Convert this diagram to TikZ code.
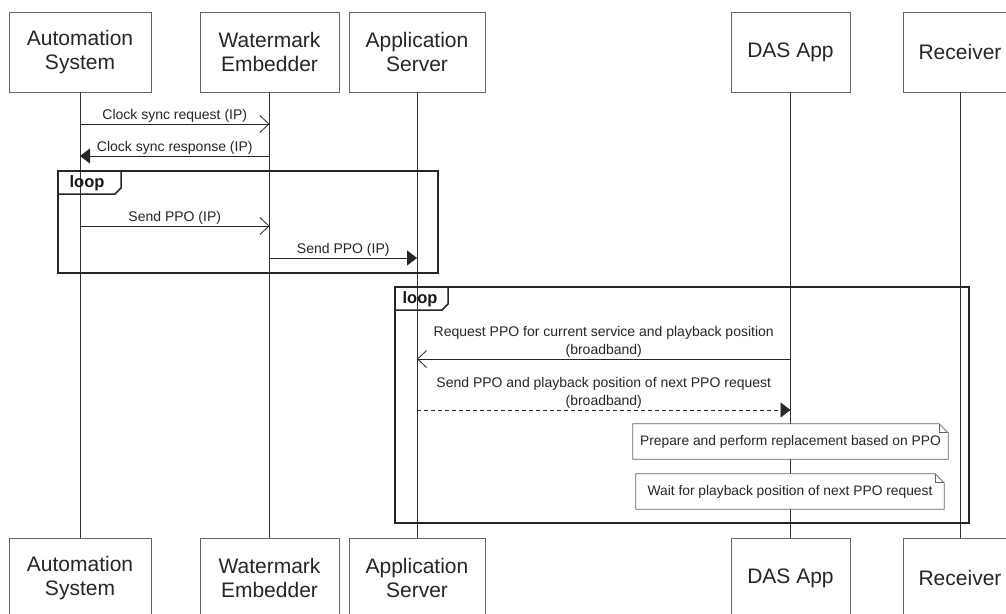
\documentclass[tikz,border=0pt]{standalone}
\usepackage{fontspec}
\setmainfont{Liberation Sans}
\usetikzlibrary{arrows.meta}

\begin{document}
\begin{tikzpicture}[x=1pt,y=-1pt,
  actor/.style={draw=black!60, line width=0.8pt, fill=white, minimum height=80pt,
    inner sep=0pt, align=center, font=\fontsize{21}{23.5}\selectfont, text=black!85},
  life/.style={draw=black!80, line width=0.8pt},
  msg/.style={draw=black!85, line width=0.8pt},
  async/.style={msg, -{Straight Barb[length=9pt,width=17pt]}},
  sync/.style={msg, -{Triangle[length=10pt,width=15pt]}},
  lbl/.style={font=\fontsize{14}{18}\selectfont, text=black!85, align=center, inner sep=1pt},
  frame/.style={draw=black!85, line width=1.5pt},
  looplbl/.style={font=\bfseries\fontsize{16.5}{18}\selectfont, text=black!90, inner sep=0pt},
  notebox/.style={fill=white, inner sep=0pt, font=\fontsize{13.8}{16}\selectfont, text=black!85},
  noteline/.style={draw=black!60, line width=0.8pt},
]
\clip (0,0) rectangle (1006,613);
\fill[white] (0,0) rectangle (1006,613);

% participants, top row
\node[actor, minimum width=142pt] (asT) at (80,52)    {Automation\\System};
\node[actor, minimum width=139pt] (weT) at (269.5,52) {Watermark\\Embedder};
\node[actor, minimum width=136pt] (apT) at (417,52)   {Application\\Server};
\node[actor, minimum width=119pt] (daT) at (790.5,52) {DAS App};
\node[actor, minimum width=114pt] (rcT) at (960,52)   {Receiver};

% participants, bottom row
\node[actor, minimum width=142pt] (asB) at (80,578)    {Automation\\System};
\node[actor, minimum width=139pt] (weB) at (269.5,578) {Watermark\\Embedder};
\node[actor, minimum width=136pt] (apB) at (417,578)   {Application\\Server};
\node[actor, minimum width=119pt] (daB) at (790.5,578) {DAS App};
\node[actor, minimum width=114pt] (rcB) at (960,578)   {Receiver};

% lifelines
\draw[life] (asT.south) -- (asB.north);
\draw[life] (weT.south) -- (weB.north);
\draw[life] (apT.south) -- (apB.north);
\draw[life] (daT.south) -- (daB.north);
\draw[life] (rcT.south) -- (rcB.north);

% message end points on the lifelines
\coordinate (as1) at (80,124);    \coordinate (we1) at (269.5,124);
\coordinate (as2) at (80,156);    \coordinate (we2) at (269.5,156);
\coordinate (as3) at (80,226);    \coordinate (we3) at (269.5,226);
\coordinate (we4) at (269.5,258); \coordinate (ap4) at (417,258);
\coordinate (ap5) at (417,359);   \coordinate (da5) at (790.5,359);
\coordinate (ap6) at (417,410);   \coordinate (da6) at (790.5,410);

% clock synchronisation
\draw[async] (as1) -- node[lbl, above] {Clock sync request (IP)} (we1);
\draw[sync]  (we2) -- node[lbl, above] {Clock sync response (IP)} (as2);

% first loop
\draw[frame] (58,171) rectangle (438,273);
\draw[frame] (58,194) -- (115,194) -- (121,188) -- (121,171);
\node[looplbl] (loopA) at (87,183) {loop};
\draw[async] (as3) -- node[lbl, above] {Send PPO (IP)} (we3);
\draw[sync]  (we4) -- node[lbl, above] {Send PPO (IP)} (ap4);

% second loop
\draw[frame] (395,287) rectangle (969,523);
\draw[frame] (395,310) -- (442,310) -- (448,304) -- (448,287);
\node[looplbl] (loopB) at (420,299.5) {loop};
\draw[async] (da5) -- node[lbl, above] {Request PPO for current service and playback position\\(broadband)} (ap5);
\draw[sync, dash pattern=on 4pt off 3pt] (ap6) -- node[lbl, above] {Send PPO and playback position of next PPO request\\(broadband)} (da6);

% notes on the DAS App lifeline
\node[notebox, minimum width=315pt, minimum height=35pt] (n1) at (790.5,441.5)
  {Prepare and perform replacement based on PPO};
\draw[noteline] (n1.north west) -- ([xshift=-9pt]n1.north east) -- ([yshift=-9pt]n1.north east)
  -- (n1.south east) -- (n1.south west) -- cycle;
\draw[noteline] ([xshift=-9pt]n1.north east) |- ([yshift=-9pt]n1.north east);

\node[notebox, minimum width=308pt, minimum height=35pt] (n2) at (790,491.5)
  {Wait for playback position of next PPO request};
\draw[noteline] (n2.north west) -- ([xshift=-9pt]n2.north east) -- ([yshift=-9pt]n2.north east)
  -- (n2.south east) -- (n2.south west) -- cycle;
\draw[noteline] ([xshift=-9pt]n2.north east) |- ([yshift=-9pt]n2.north east);
\end{tikzpicture}
\end{document}
